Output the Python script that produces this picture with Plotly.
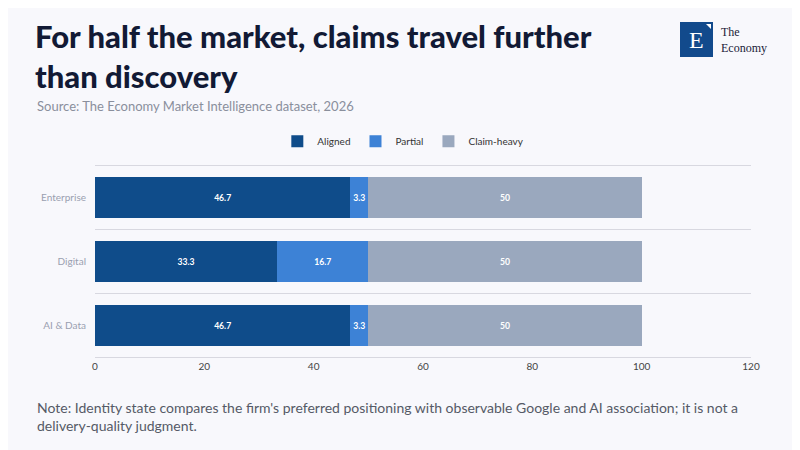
import plotly.graph_objects as go

# data
categories = ["Enterprise", "Digital", "AI & Data"]
aligned = [46.7, 33.3, 46.7]
partial = [3.3, 16.7, 3.3]
claim_heavy = [50, 50, 50]

series = [
    ("Aligned", aligned, "#0f4c8a"),
    ("Partial", partial, "#3d82d6"),
    ("Claim-heavy", claim_heavy, "#9aa8be"),
]

FONT = "Source Sans Pro, Lato, sans-serif"

fig = go.Figure()
for name, vals, col in series:
    fig.add_trace(go.Bar(
        y=categories, x=vals, name=name, orientation="h",
        marker=dict(color=col, line=dict(width=0)),
        text=[f"<b>{v:g}</b>" for v in vals],
        textposition="inside", insidetextanchor="middle",
        textfont=dict(color="white", size=9, family=FONT),
        textangle=0,
    ))

fig.update_layout(
    barmode="stack",
    bargap=0.36,
    width=800, height=450,
    margin=dict(l=87, r=57, t=158, b=101),
    paper_bgcolor="#f8f8fc",
    plot_bgcolor="#f8f8fc",
    font=dict(family=FONT, color="#666"),
    showlegend=True,
    legend=dict(orientation="h", x=0.47, xanchor="center", y=1.13, yanchor="middle",
                font=dict(size=10, color="#333"), itemwidth=30,
                traceorder="normal"),
    uniformtext=dict(minsize=8, mode="show"),
)

fig.update_xaxes(
    range=[0, 120], dtick=20, showgrid=False, zeroline=False,
    showline=True, mirror=True, linecolor="#d8d8e0", linewidth=1,
    tickfont=dict(size=10, color="#444"), ticks="",
)
fig.update_yaxes(
    autorange="reversed", tickson="boundaries", showgrid=True,
    gridcolor="#d8d8e0", gridwidth=1, showline=False, zeroline=False,
    tickfont=dict(size=10, color="#9a9fb0"), ticks="", ticklabelstandoff=8,
)

# positions given in reference-pixel coordinates
px = lambda v: (v - 95) / 656
py = lambda v: (357 - v) / 191

# title, subtitle, note
fig.add_annotation(
    text="For half the market, claims travel further<br>than discovery",
    xref="paper", yref="paper", x=px(33), y=py(15),
    xanchor="left", yanchor="top", align="left", showarrow=False,
    font=dict(size=31, color="#121a35", family=FONT, weight=900),
)
fig.add_annotation(
    text="Source: The Economy Market Intelligence dataset, 2026",
    xref="paper", yref="paper", x=px(35), y=py(106),
    xanchor="left", yanchor="middle", showarrow=False,
    font=dict(size=13, color="#8a8f9c", family=FONT),
)
fig.add_annotation(
    text="Note: Identity state compares the firm's preferred positioning with observable Google and AI association; it is not a<br>delivery-quality judgment.",
    xref="paper", yref="paper", x=px(35), y=py(397),
    xanchor="left", yanchor="top", align="left", showarrow=False,
    font=dict(size=14, color="#555a66", family=FONT),
)

# logo
fig.add_shape(type="rect", xref="paper", yref="paper",
              x0=px(680), x1=px(713), y0=py(57), y1=py(22),
              fillcolor="#124a8c", line=dict(width=0))
fig.add_shape(type="path", xref="paper", yref="paper",
              path=f"M {px(706)} {py(24)} L {px(711)} {py(24)} L {px(711)} {py(29)} Z",
              fillcolor="white", line=dict(width=0))
fig.add_annotation(text="E", xref="paper", yref="paper", x=px(696), y=py(40),
                   xanchor="center", yanchor="middle", showarrow=False,
                   font=dict(size=24, color="white", family="Liberation Serif, serif"))
fig.add_annotation(text="The<br>Economy", xref="paper", yref="paper", x=px(719), y=py(40),
                   xanchor="left", yanchor="middle", align="left", showarrow=False,
                   font=dict(size=12, color="#1a2238", family="Liberation Serif, serif"))

fig.write_html("out.html")
